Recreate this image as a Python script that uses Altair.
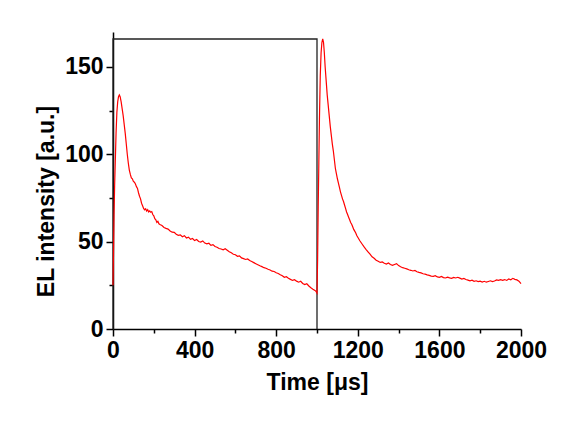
import altair as alt
import pandas as pd

# EL intensity trace (time in microseconds, intensity in a.u.)
# first pulse (0 - 1000 us)
time_pulse1 = [0, 2, 5, 8, 11, 15, 19, 23, 27, 31, 35, 40, 45, 50, 55, 60, 65, 70, 75, 80,
               85, 90, 95, 100, 105, 110, 115, 120, 125, 130, 135, 140, 145, 150, 155, 160,
               165, 170, 175, 180, 185, 190, 195, 200, 205, 210, 215, 220, 225, 230, 240,
               250, 260, 270, 280, 290, 300, 310, 320, 330, 340, 350, 360, 370, 380, 390,
               400, 410, 420, 430, 440, 450, 460, 470, 480, 490, 500, 510, 520, 530, 540,
               550, 560, 570, 580, 590, 600, 610, 620, 630, 640, 650, 660, 670, 680, 690,
               700, 710, 720, 730, 740, 750, 760, 770, 780, 790, 800, 810, 820, 830, 840,
               850, 860, 870, 880, 890, 900, 910, 920, 930, 940, 950, 960, 970, 980, 990,
               996, 1000]
el_pulse1 = [25, 40, 65, 82, 95, 112, 124, 130, 133, 134, 133, 130, 126, 122, 117, 112, 106, 100, 95, 91,
             88.5, 86.5, 86, 84.5, 84, 83, 81.5, 80.5, 78, 76, 74.5, 72, 70.5, 69, 68.2, 68.8,
             67.5, 68.3, 67, 67.6, 66.8, 67.2, 65.5, 64.8, 63.2, 62.5, 61, 61.6, 60.2, 59.8, 59.2,
             58.1, 57.6, 57.2, 56.1, 55.4, 55.3, 54.2, 53.6, 53.9, 52.8, 53.4, 52.1, 52.6, 51.3, 51.8,
             50.6, 51.2, 50.1, 49.8, 50.4, 49.2, 48.7, 49.1, 47.9, 48.3, 47.2, 46.8, 46.1, 45.8, 45.3,
             45.9, 45.1, 44.2, 43.6, 42.8, 42.5, 41.6, 41.9, 40.7, 40.3, 39.8, 40.1, 39.2, 38.6, 38.0,
             37.4, 36.8, 36.2, 35.7, 35.1, 34.8, 34.2, 33.8, 33.1, 32.9, 32.2, 31.8, 31.1, 30.5, 29.6,
             29.9, 29.1, 28.4, 27.8, 28.2, 27.4, 26.8, 27.3, 26.1, 25.4, 25.9, 24.6, 23.6, 22.8, 22.1,
             21.4, 20.6]

# second pulse (1000 - 2000 us)
time_pulse2 = [1003, 1006, 1009, 1012, 1016, 1020, 1024, 1028, 1032, 1036, 1040, 1045, 1050,
               1055, 1060, 1065, 1070, 1075, 1080, 1085, 1090, 1095, 1100, 1105, 1110, 1115,
               1120, 1125, 1130, 1135, 1140, 1145, 1150, 1155, 1160, 1165, 1170, 1175, 1180,
               1185, 1190, 1195, 1200, 1210, 1220, 1230, 1240, 1250, 1260, 1270, 1280, 1290,
               1300, 1310, 1320, 1330, 1340, 1350, 1360, 1370, 1380, 1390, 1400, 1410, 1420,
               1430, 1440, 1450, 1460, 1470, 1480, 1490, 1500, 1510, 1520, 1530, 1540, 1550,
               1560, 1570, 1580, 1590, 1600, 1610, 1620, 1630, 1640, 1650, 1660, 1670, 1680,
               1690, 1700, 1710, 1720, 1730, 1740, 1750, 1760, 1770, 1780, 1790, 1800, 1810,
               1820, 1830, 1840, 1850, 1860, 1870, 1880, 1890, 1900, 1910, 1920, 1930, 1940,
               1950, 1960, 1970, 1980, 1990, 2000]
el_pulse2 = [40, 70, 95, 120, 145, 158, 164, 166, 164, 158, 150, 142, 134,
             128, 122, 116, 111, 106, 102, 97, 92, 89, 86, 83.5, 81, 78.5,
             76.5, 74.5, 73, 71, 69, 67, 65.5, 64, 62.5, 61, 60, 58.5, 57,
             56, 55, 53.5, 52.5, 50.5, 48.8, 47.1, 45.6, 44.2, 42.8, 41.3, 40.5, 39.4,
             38.8, 38.1, 38.4, 37.6, 37.2, 37.8, 36.9, 36.4, 36.9, 37.4, 36.3, 35.6, 35.1,
             34.8, 34.4, 33.9, 33.6, 33.2, 33.5, 32.8, 32.4, 32.1, 31.6, 31.4, 31.0, 30.7,
             30.3, 30.1, 30.5, 29.8, 29.6, 30.1, 29.4, 29.2, 29.7, 29.3, 29.0, 29.5, 29.2,
             29.6, 29.1, 28.6, 28.9, 28.3, 28.0, 27.6, 27.9, 27.3, 27.6, 27.1, 27.4, 26.9,
             27.3, 26.8, 27.2, 27.6, 27.1, 27.5, 28.1, 27.8, 28.2, 27.9, 28.3, 27.8, 28.6,
             28.2, 29.0, 28.4, 28.1, 27.4, 26.0]

# Applied voltage pulse (black rectangle)
pulse_t = [0, 0, 1000, 1000]
pulse_v = [0, 166, 166, 0]

x_tick_values = [0, 200, 400, 600, 800, 1000, 1200, 1400, 1600, 1800, 2000]
y_tick_values = [0, 25, 50, 75, 100, 125, 150]

time_us = time_pulse1 + time_pulse2
el_intensity = el_pulse1 + el_pulse2
el_df = pd.DataFrame({"t": time_us, "v": el_intensity, "i": list(range(len(time_us)))})
pulse_df = pd.DataFrame({"t": pulse_t, "v": pulse_v, "i": list(range(len(pulse_t)))})

FONT = "Liberation Sans"

x_enc = alt.X(
    "t:Q",
    scale=alt.Scale(domain=[0, 2000], nice=False, zero=False),
    axis=alt.Axis(
        values=x_tick_values,
        format="d",
        labelExpr="datum.value % 400 === 0 ? datum.label : ''",
        tickSize={"condition": {"test": "datum.value % 400 === 0", "value": 7}, "value": 4},
        labelFlush=False,
        labelOverlap=False,
        title="Time [μs]",
        titlePadding=9,
        labelPadding=3,
    ),
)
y_enc = alt.Y(
    "v:Q",
    scale=alt.Scale(domain=[0, 170], nice=False),
    axis=alt.Axis(
        values=y_tick_values,
        format="d",
        labelExpr="datum.value % 50 === 0 ? datum.label : ''",
        tickSize={"condition": {"test": "datum.value % 50 === 0", "value": 7}, "value": 4},
        labelFlush=False,
        labelOverlap=False,
        title="EL intensity [a.u.]",
        titlePadding=6,
        labelPadding=3,
        titleY=169,
    ),
)

pulse = alt.Chart(pulse_df).mark_line(color="#222222", strokeWidth=1.3).encode(
    x=x_enc, y=y_enc, order="i:Q"
)
trace = alt.Chart(el_df).mark_line(color="#ff0000", strokeWidth=1.2).encode(
    x=x_enc, y=y_enc, order="i:Q"
)

chart = (
    alt.layer(pulse, trace)
    .properties(
        width=408,
        height=297,
        autosize="none",
        padding={"left": 105, "top": 24, "right": 50, "bottom": 80},
    )
    .configure_view(stroke=None)
    .configure_axis(
        grid=False,
        domainColor="#000000",
        domainWidth=1.5,
        tickColor="#000000",
        tickWidth=1.5,
        labelFont=FONT,
        labelFontSize=23,
        labelFontWeight="bold",
        labelColor="#000000",
        titleFont=FONT,
        titleFontSize=23,
        titleFontWeight="bold",
        titleColor="#000000",
    )
)

chart.save("out.html", embed_options={"renderer": "svg", "actions": False})
